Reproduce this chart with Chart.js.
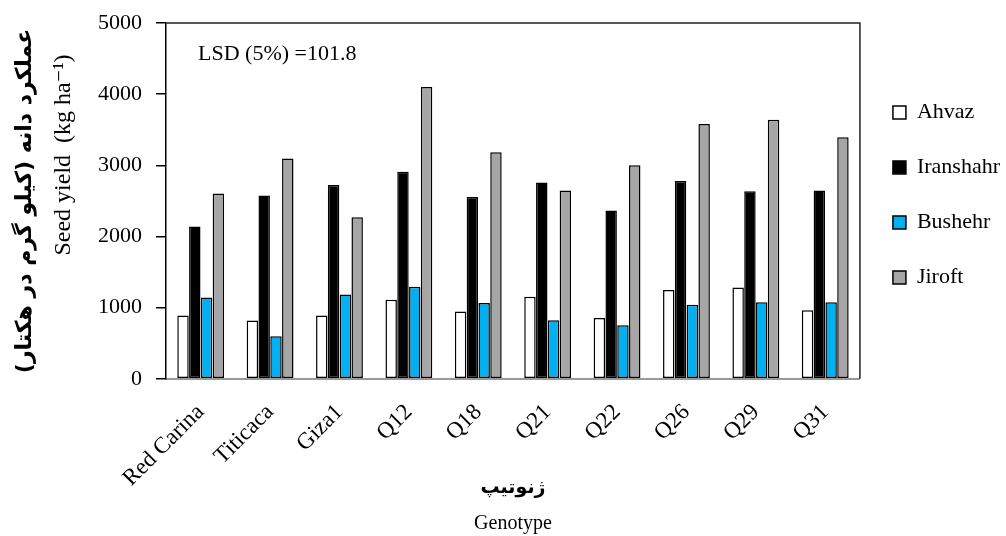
<!DOCTYPE html>
<html>
<head>
<meta charset="utf-8">
<script src="https://cdn.jsdelivr.net/npm/chart.js@4.4.0/dist/chart.umd.min.js"></script>
<style>
  html, body { margin: 0; padding: 0; background: #fff; }
  #wrap { width: 1006px; height: 536px; position: relative; }
</style>
</head>
<body>
<div id="wrap"><canvas id="yieldChart"></canvas></div>
<script>
// Seed yield per genotype at four locations (kg/ha)
const genotypes = ['Red Carina', 'Titicaca', 'Giza1', 'Q12', 'Q18', 'Q21', 'Q22', 'Q26', 'Q29', 'Q31'];
const ahvaz     = [890, 820, 890, 1110, 945, 1155, 855, 1250, 1285, 965];
const iranshahr = [2140, 2575, 2725, 2910, 2555, 2760, 2365, 2780, 2635, 2645];
const bushehr   = [1145, 600, 1185, 1295, 1065, 825, 755, 1040, 1075, 1075];
const jiroft    = [2605, 3095, 2270, 4100, 3185, 2645, 3000, 3580, 3640, 3395];
const yTicks    = [0, 1000, 2000, 3000, 4000, 5000];
const lsdNote   = 'LSD (5%) =101.8';
const yTitleFa  = 'عملکرد دانه (کیلو گرم در هکتار)';
const yTitleEn  = 'Seed yield  (kg ha⁻¹)';
const xTitleFa  = 'ژنوتیپ';

const serif = "'Liberation Serif', 'DejaVu Sans', serif";

// plot frame (top + right edges), LSD note and the two y titles + Persian x title
const framePlugin = {
    id: 'frame',
    afterDatasetsDraw(chart) {
        const { ctx, chartArea: a } = chart;
        ctx.save();
        ctx.strokeStyle = '#222';
        ctx.lineWidth = 1.5;
        ctx.beginPath();
        ctx.moveTo(a.left, a.top);
        ctx.lineTo(a.right, a.top);
        ctx.lineTo(a.right, a.bottom);
        ctx.stroke();

        ctx.fillStyle = '#000';
        ctx.font = '22px ' + serif;
        ctx.textBaseline = 'middle';
        ctx.fillText(lsdNote, a.left + 32, a.top + 31);

        ctx.font = "bold 19px 'DejaVu Sans', sans-serif";
        ctx.textAlign = 'center';
        ctx.fillText(xTitleFa, (a.left + a.right) / 2, 488);

        ctx.rotate(-Math.PI / 2);
        ctx.font = "bold 22px 'DejaVu Sans', sans-serif";
        ctx.fillText(yTitleFa, -(a.top + a.bottom) / 2, 25);
        ctx.font = '24px ' + serif;
        ctx.fillText(yTitleEn, -155, 64);
        ctx.restore();
    }
};

function barSet(label, data, fill) {
    return {
        label: label,
        data: data,
        backgroundColor: fill,
        borderColor: '#000',
        borderWidth: 1.5,
        borderSkipped: false,
        categoryPercentage: 0.68,
        barPercentage: 0.97
    };
}

new Chart(document.getElementById('yieldChart'), {
    type: 'bar',
    data: {
        labels: genotypes,
        datasets: [
            barSet('Ahvaz', ahvaz, '#ffffff'),
            barSet('Iranshahr', iranshahr, '#000000'),
            barSet('Bushehr', bushehr, '#00b0f0'),
            barSet('Jiroft', jiroft, '#a6a6a6')
        ]
    },
    options: {
        responsive: true,
        maintainAspectRatio: false,
        animation: false,
        layout: { padding: { left: 84, top: 23, right: -4, bottom: 0 } },
        plugins: {
            legend: {
                position: 'right',
                align: 'start',
                title: { display: true, text: ' ', padding: { top: 31, bottom: 0 } },
                labels: {
                    color: '#000',
                    font: { family: serif, size: 22 },
                    boxWidth: 13,
                    boxHeight: 13,
                    padding: 33
                }
            },
            tooltip: { enabled: false }
        },
        scales: {
            x: {
                grid: { display: false },
                border: { color: '#999', width: 2 },
                ticks: {
                    color: '#000',
                    font: { family: serif, size: 23 },
                    maxRotation: 45,
                    minRotation: 45,
                    padding: 12
                },
                title: {
                    display: true,
                    text: 'Genotype',
                    color: '#000',
                    font: { family: serif, size: 20 },
                    padding: { top: 8, bottom: 0 }
                }
            },
            y: {
                min: 0,
                max: 5000,
                afterBuildTicks(scale) {
                    scale.ticks = yTicks.map(v => ({ value: v }));
                },
                grid: {
                    drawOnChartArea: false,
                    drawTicks: true,
                    tickLength: 10,
                    color: '#000',
                    lineWidth: 1.5
                },
                border: { color: '#000', width: 1.5 },
                ticks: {
                    color: '#000',
                    font: { family: serif, size: 22, lineHeight: 0.8 },
                    padding: 14,
                    callback: v => String(v)
                }
            }
        }
    },
    plugins: [framePlugin]
});
</script>
</body>
</html>
